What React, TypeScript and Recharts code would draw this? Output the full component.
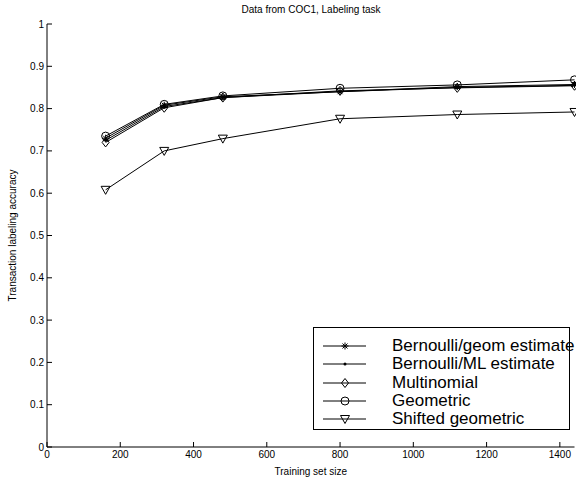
import { LineChart, Line, XAxis, YAxis, Label } from 'recharts';

const trainSizes = [160, 320, 480, 800, 1120, 1440];
const bernoulliGeom = [0.73, 0.808, 0.828, 0.84, 0.852, 0.857];
const bernoulliML = [0.725, 0.805, 0.826, 0.84, 0.85, 0.855];
const multinomial = [0.72, 0.802, 0.826, 0.842, 0.849, 0.854];
const geometric = [0.735, 0.81, 0.83, 0.848, 0.856, 0.868];
const shiftedGeom = [0.608, 0.7, 0.729, 0.776, 0.786, 0.792];

const xTicks = [0, 200, 400, 600, 800, 1000, 1200, 1400];
const yTicks = [0, 0.1, 0.2, 0.3, 0.4, 0.5, 0.6, 0.7, 0.8, 0.9, 1];

type MarkerKind = 'star' | 'point' | 'diamond' | 'circle' | 'triangle';

const SERIES: { key: string; name: string; marker: MarkerKind; values: number[] }[] = [
  { key: 'bgeom', name: 'Bernoulli/geom estimate', marker: 'star', values: bernoulliGeom },
  { key: 'bml', name: 'Bernoulli/ML estimate', marker: 'point', values: bernoulliML },
  { key: 'multi', name: 'Multinomial', marker: 'diamond', values: multinomial },
  { key: 'geo', name: 'Geometric', marker: 'circle', values: geometric },
  { key: 'shift', name: 'Shifted geometric', marker: 'triangle', values: shiftedGeom },
];

const chartData = trainSizes.map((n, i) => {
  const row: Record<string, number> = { n };
  SERIES.forEach(s => {
    row[s.key] = s.values[i];
  });
  return row;
});

const FONT = '"Liberation Sans", Arial, sans-serif';

function Marker({ kind, cx, cy }: { kind: MarkerKind; cx: number; cy: number }) {
  const st = { stroke: '#000', strokeWidth: 1, fill: 'none' };
  switch (kind) {
    case 'star':
      return (
        <g {...st}>
          <line x1={cx - 3.5} y1={cy} x2={cx + 3.5} y2={cy} />
          <line x1={cx} y1={cy - 3.5} x2={cx} y2={cy + 3.5} />
          <line x1={cx - 2.5} y1={cy - 2.5} x2={cx + 2.5} y2={cy + 2.5} />
          <line x1={cx - 2.5} y1={cy + 2.5} x2={cx + 2.5} y2={cy - 2.5} />
        </g>
      );
    case 'point':
      return <circle cx={cx} cy={cy} r={1.5} fill="#000" />;
    case 'diamond':
      return <polygon points={`${cx},${cy - 4.5} ${cx + 3.5},${cy} ${cx},${cy + 4.5} ${cx - 3.5},${cy}`} {...st} />;
    case 'circle':
      return <circle cx={cx} cy={cy} r={4} {...st} />;
    case 'triangle':
      return <polygon points={`${cx - 4.5},${cy - 3.5} ${cx + 4.5},${cy - 3.5} ${cx},${cy + 4.5}`} {...st} />;
  }
}

function LegendBox() {
  return (
    <div
      style={{
        position: 'absolute',
        left: 313,
        top: 327,
        border: '1px solid #000',
        background: '#fff',
        width: 257,
        height: 103,
        boxSizing: 'border-box',
        padding: '9px 0 0 0',
        fontFamily: FONT,
        fontSize: 17,
      }}
    >
      {SERIES.map(s => (
        <div key={s.key} style={{ display: 'flex', alignItems: 'center', height: 18.3 }}>
          <svg width={78} height={18} style={{ display: 'block', flex: 'none' }}>
            <line x1={9} y1={9} x2={52} y2={9} stroke="#000" strokeWidth={1} />
            <Marker kind={s.marker} cx={31} cy={9} />
          </svg>
          <span style={{ whiteSpace: 'nowrap', lineHeight: '18px' }}>{s.name}</span>
        </div>
      ))}
    </div>
  );
}

export default function App() {
  return (
    <div style={{ position: 'absolute', left: 0, top: 0, width: 576, height: 481, background: '#fff', overflow: 'hidden' }}>
      <div
        style={{
          position: 'absolute',
          left: 47,
          width: 528,
          top: 4,
          textAlign: 'center',
          fontFamily: FONT,
          fontSize: 10,
        }}
      >
        Data from COC1, Labeling task
      </div>
      <LineChart
        width={576}
        height={481}
        data={chartData}
        margin={{ top: 24, right: 1.5, bottom: 0, left: 0 }}
        style={{ fontFamily: FONT }}
      >
        <XAxis
          dataKey="n"
          type="number"
          domain={[0, 1440]}
          ticks={xTicks}
          height={34}
          stroke="#000"
          tickSize={-5}
          tickMargin={9}
          tick={{ fill: '#000', fontSize: 10 }}
          interval={0}
        >
          <Label
            content={({ viewBox }: any) => (
              <text
                x={viewBox.x + viewBox.width / 2}
                y={viewBox.y + 28}
                textAnchor="middle"
                fontSize={10}
                fontFamily={FONT}
                fill="#000"
              >
                Training set size
              </text>
            )}
          />
        </XAxis>
        <YAxis
          type="number"
          domain={[0, 1]}
          ticks={yTicks}
          width={47}
          stroke="#000"
          tickSize={-5}
          tickMargin={8}
          tick={{ fill: '#000', fontSize: 10 }}
          interval={0}
          tickFormatter={(v: number) => String(Math.round(v * 10) / 10)}
        >
          <Label
            content={({ viewBox }: any) => {
              const cx = viewBox.x + 16;
              const cy = viewBox.y + viewBox.height / 2;
              return (
                <text
                  x={cx}
                  y={cy}
                  transform={`rotate(-90, ${cx}, ${cy})`}
                  textAnchor="middle"
                  fontSize={10}
                  fontFamily={FONT}
                  fill="#000"
                >
                  Transaction labeling accuracy
                </text>
              );
            }}
          />
        </YAxis>
        {SERIES.map(s => (
          <Line
            key={s.key}
            dataKey={s.key}
            name={s.name}
            type="linear"
            stroke="#000"
            strokeWidth={1}
            isAnimationActive={false}
            dot={(p: any) => <Marker key={`${s.key}-${p.index}`} kind={s.marker} cx={p.cx} cy={p.cy} />}
            activeDot={false}
          />
        ))}
      </LineChart>
      <LegendBox />
    </div>
  );
}
